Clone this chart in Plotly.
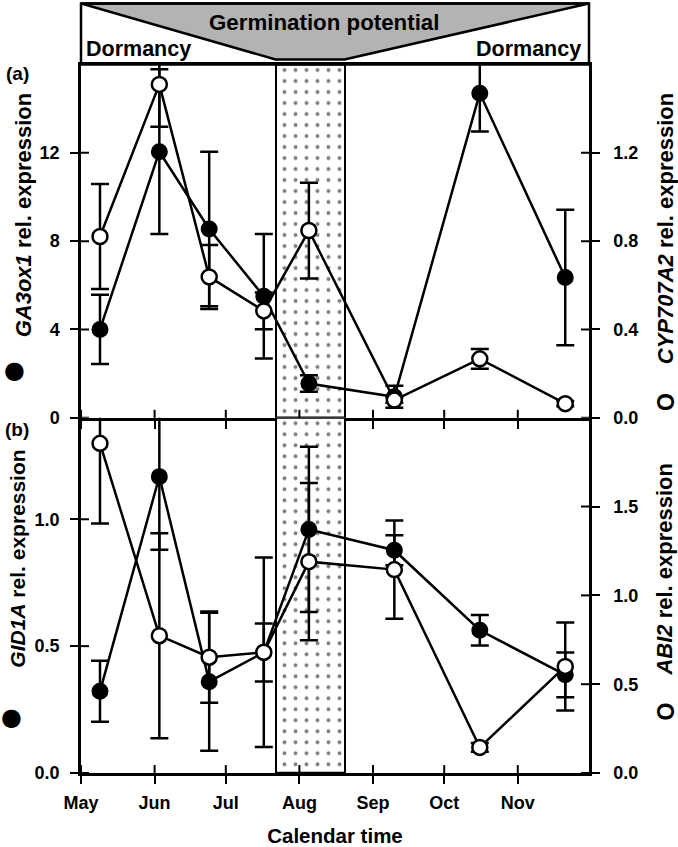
import plotly.graph_objects as go
import pandas as pd

# ---------------- data ----------------
sample_dates = ["05-09", "06-03", "06-24", "07-17", "08-05", "09-10", "10-16", "11-21"]

ga3ox1 = [4.0, 12.05, 8.55, 5.5, 1.55, 0.95, 14.7, 6.35]
ga3ox1_err = [1.57, 3.73, 3.5, 2.82, 0.37, 0.5, 1.73, 3.07]
cyp707a2 = [0.821, 1.51, 0.638, 0.484, 0.848, 0.080, 0.267, 0.064]
cyp707a2_err = [0.238, 0.192, 0.145, 0.083, 0.217, 0.012, 0.045, 0.012]

gid1a = [0.322, 1.168, 0.36, 0.475, 0.96, 0.878, 0.5625, 0.387]
gid1a_err = [0.12, 0.288, 0.272, 0.114, 0.326, 0.059, 0.06, 0.088]
abi2 = [1.856, 0.773, 0.652, 0.68, 1.19, 1.145, 0.144, 0.60]
abi2_err = [0.452, 0.577, 0.257, 0.533, 0.442, 0.276, 0.025, 0.248]

month_labels = ["May", "Jun", "Jul", "Aug", "Sep", "Oct", "Nov"]
month_starts = ["05-01", "06-01", "07-01", "08-01", "09-01", "10-01", "11-01"]
axis_start, axis_end = "05-01", "12-01"
germination_window = ["07-22", "08-20"]

ticks_a_left = [0, 4, 8, 12]
ticks_a_right = [0.0, 0.4, 0.8, 1.2]
ticks_b_left = [0.0, 0.5, 1.0]
ticks_b_right = [0.0, 0.5, 1.0, 1.5]
range_a_left, range_a_right = [0, 16], [0, 1.6]
range_b_left, range_b_right = [0, 1.4], [0, 2.0]


def day(s):
    return (pd.Timestamp("2001-" + s) - pd.Timestamp("2001-" + axis_start)).days


xs = [day(d) for d in sample_dates]
mticks = [day(d) for d in month_starts]
x0, x1 = day(axis_start), day(axis_end)
w0, w1 = day(germination_window[0]), day(germination_window[1])

# ---------------- layout geometry ----------------
W, H = 678, 847
ML, MR, MT, MB = 81, 89, 2, 68
PH = H - MT - MB
PW = W - ML - MR


def py(p):  # pixel y -> paper y
    return (H - MB - p) / PH


def pxp(p):  # pixel x -> paper x
    return (p - ML) / PW


split = py(421)
top_a = py(65)
banner_top = py(3.5)
flat_y = py(60)

FONT = "Liberation Sans, Arial, sans-serif"
LW = 2.5
MS = 15
CAP = 9

fig = go.Figure()

pattern = dict(shape=".", fgcolor="black", bgcolor="white", size=11, solidity=0.1)

# stippled germination window (panel a)
fig.add_trace(go.Bar(x=[(w0 + w1) / 2], y=[range_a_left[1]], base=0, width=[w1 - w0],
                     marker=dict(color="white", pattern=pattern, line=dict(color="black", width=2)),
                     xaxis="x", yaxis="y", showlegend=False, hoverinfo="skip"))
# panel a filled: GA3ox1
fig.add_trace(go.Scatter(x=xs, y=ga3ox1, mode="lines+markers", xaxis="x", yaxis="y",
                         line=dict(color="black", width=LW),
                         marker=dict(symbol="circle", size=MS, color="black", line=dict(color="black", width=2)),
                         error_y=dict(type="data", array=ga3ox1_err, color="black", thickness=LW, width=CAP),
                         showlegend=False))
# panel a open: CYP707A2
fig.add_trace(go.Scatter(x=xs, y=cyp707a2, mode="lines+markers", xaxis="x", yaxis="y2",
                         line=dict(color="black", width=LW),
                         marker=dict(symbol="circle", size=MS, color="white", line=dict(color="black", width=2.5)),
                         error_y=dict(type="data", array=cyp707a2_err, color="black", thickness=LW, width=CAP),
                         showlegend=False))
# stippled window (panel b)
fig.add_trace(go.Bar(x=[(w0 + w1) / 2], y=[range_b_left[1]], base=0, width=[w1 - w0],
                     marker=dict(color="white", pattern=pattern, line=dict(color="black", width=2)),
                     xaxis="x2", yaxis="y3", showlegend=False, hoverinfo="skip"))
# panel b filled: GID1A
fig.add_trace(go.Scatter(x=xs, y=gid1a, mode="lines+markers", xaxis="x2", yaxis="y3",
                         line=dict(color="black", width=LW),
                         marker=dict(symbol="circle", size=MS, color="black", line=dict(color="black", width=2)),
                         error_y=dict(type="data", array=gid1a_err, color="black", thickness=LW, width=CAP),
                         showlegend=False))
# panel b open: ABI2
fig.add_trace(go.Scatter(x=xs, y=abi2, mode="lines+markers", xaxis="x2", yaxis="y4",
                         line=dict(color="black", width=LW),
                         marker=dict(symbol="circle", size=MS, color="white", line=dict(color="black", width=2.5)),
                         error_y=dict(type="data", array=abi2_err, color="black", thickness=LW, width=CAP),
                         showlegend=False))

tickfont = dict(family=FONT, size=18, color="black", weight="bold")
common = dict(showline=True, linecolor="black", linewidth=LW, ticks="outside", ticklen=8,
              tickwidth=2, tickcolor="black", tickfont=tickfont, showgrid=False, zeroline=False,
              fixedrange=True)

fig.update_layout(
    width=W, height=H, margin=dict(l=ML, r=MR, t=MT, b=MB),
    paper_bgcolor="white", plot_bgcolor="white", barmode="overlay", bargap=0,
    xaxis=dict(domain=[0, 1], anchor="y", range=[x0, x1], tickvals=mticks, ticktext=month_labels,
               showticklabels=False, mirror=True, **common),
    xaxis2=dict(domain=[0, 1], anchor="y3", range=[x0, x1], tickvals=mticks, ticktext=month_labels,
                ticklabelstandoff=4,
                title=dict(text="<b>Calendar time</b>", font=dict(family=FONT, size=20.5, color="black"),
                           standoff=17), **common),
    yaxis=dict(domain=[split, top_a], anchor="x", range=range_a_left, tickvals=ticks_a_left,
               ticklabelstandoff=7, **common),
    yaxis2=dict(overlaying="y", side="right", anchor="x", range=range_a_right, tickvals=ticks_a_right,
                tickformat=".1f", ticklabelstandoff=10, **common),
    yaxis3=dict(domain=[0, split], anchor="x2", range=range_b_left, tickvals=ticks_b_left,
                tickformat=".1f", ticklabelstandoff=7, **common),
    yaxis4=dict(overlaying="y3", side="right", anchor="x2", range=range_b_right, tickvals=ticks_b_right,
                tickformat=".1f", ticklabelstandoff=10, **common),
)

shapes = []
# inward halves of the crossing ticks
for t in mticks:
    shapes.append(dict(type="line", xref="x", yref="y domain", x0=t, x1=t, y0=0, y1=8 / 356,
                       line=dict(color="black", width=2)))
    shapes.append(dict(type="line", xref="x2", yref="y3 domain", x0=t, x1=t, y0=0, y1=8 / 358,
                       line=dict(color="black", width=2)))
for t in ticks_a_left:
    shapes.append(dict(type="line", xref="x domain", yref="y", x0=0, x1=8 / PW, y0=t, y1=t,
                       line=dict(color="black", width=2)))
for t in ticks_a_right:
    shapes.append(dict(type="line", xref="x domain", yref="y2", x0=1, x1=1 - 8 / PW, y0=t, y1=t,
                       line=dict(color="black", width=2)))
for t in ticks_b_left:
    shapes.append(dict(type="line", xref="x2 domain", yref="y3", x0=0, x1=8 / PW, y0=t, y1=t,
                       line=dict(color="black", width=2)))
for t in ticks_b_right:
    shapes.append(dict(type="line", xref="x2 domain", yref="y4", x0=1, x1=1 - 8 / PW, y0=t, y1=t,
                       line=dict(color="black", width=2)))

# banner: grey germination-potential wedge and its box
shapes.append(dict(type="path", xref="x", yref="paper",
                   path=f"M {x0},{banner_top} L {x1},{banner_top} L {w1},{flat_y} L {w0},{flat_y} Z",
                   fillcolor="#b3b3b3", line=dict(color="black", width=LW), layer="above"))
shapes.append(dict(type="rect", xref="paper", yref="paper", x0=0, x1=1, y0=top_a, y1=banner_top,
                   fillcolor="rgba(0,0,0,0)", line=dict(color="black", width=LW), layer="above"))

fig.update_layout(shapes=shapes)

bf = dict(family=FONT, size=22, color="black")
bf_b = dict(family=FONT, size=21, color="black")
dorm = dict(family=FONT, size=21.5, color="black")
sym = dict(family="DejaVu Sans", size=24, color="black")
osym = dict(family=FONT, size=23, color="black")
annotations = [
    dict(text="<b>Germination potential</b>", xref="paper", yref="paper", x=pxp(324), y=py(23),
         showarrow=False, font=dict(family=FONT, size=22.3, color="black"), xanchor="center", yanchor="middle"),
    dict(text="<b>Dormancy</b>", xref="paper", yref="paper", x=0, xshift=3, y=py(49),
         showarrow=False, font=dorm, xanchor="left", yanchor="middle"),
    dict(text="<b>Dormancy</b>", xref="paper", yref="paper", x=1, xshift=-6, y=py(49),
         showarrow=False, font=dorm, xanchor="right", yanchor="middle"),
    dict(text="<b>(a)</b>", xref="paper", yref="paper", x=0, xshift=17 - ML, y=py(74),
         showarrow=False, font=dict(family=FONT, size=19, color="black"), xanchor="center", yanchor="middle"),
    dict(text="<b>(b)</b>", xref="paper", yref="paper", x=0, xshift=17 - ML, y=py(433),
         showarrow=False, font=dict(family=FONT, size=19, color="black"), xanchor="center", yanchor="middle"),
    # axis titles
    dict(text="<b><i>GA3ox1</i> rel. expression</b>", xref="paper", yref="paper", x=0, xshift=23 - ML,
         y=py(217), textangle=-90, showarrow=False, font=bf, xanchor="center", yanchor="middle"),
    dict(text="●", xref="paper", yref="paper", x=0, xshift=14 - ML, y=py(373), showarrow=False,
         font=sym, xanchor="center", yanchor="middle"),
    dict(text="<b><i>CYP707A2</i> rel. expression</b>", xref="paper", yref="paper", x=1, xshift=665 - (W - MR),
         y=py(230), textangle=-90, showarrow=False, font=bf, xanchor="center", yanchor="middle"),
    dict(text="<b>O</b>", xref="paper", yref="paper", x=1, xshift=666 - (W - MR), y=py(405), textangle=-90,
         showarrow=False, font=osym, xanchor="center", yanchor="middle"),
    dict(text="<b><i>GID1A</i> rel. expression</b>", xref="paper", yref="paper", x=0, xshift=18 - ML,
         y=py(563), textangle=-90, showarrow=False, font=bf_b, xanchor="center", yanchor="middle"),
    dict(text="●", xref="paper", yref="paper", x=0, xshift=11 - ML, y=py(723), showarrow=False,
         font=sym, xanchor="center", yanchor="middle"),
    dict(text="<b><i>ABI2</i> rel. expression</b>", xref="paper", yref="paper", x=1, xshift=665 - (W - MR),
         y=py(574), textangle=-90, showarrow=False, font=bf, xanchor="center", yanchor="middle"),
    dict(text="<b>O</b>", xref="paper", yref="paper", x=1, xshift=666 - (W - MR), y=py(717), textangle=-90,
         showarrow=False, font=osym, xanchor="center", yanchor="middle"),
]
fig.update_layout(annotations=annotations)

fig.write_html("out.html", config={"displayModeBar": False},
               post_script="document.body.style.margin='0';document.body.style.padding='0';"
                           "document.documentElement.style.overflow='hidden';")
